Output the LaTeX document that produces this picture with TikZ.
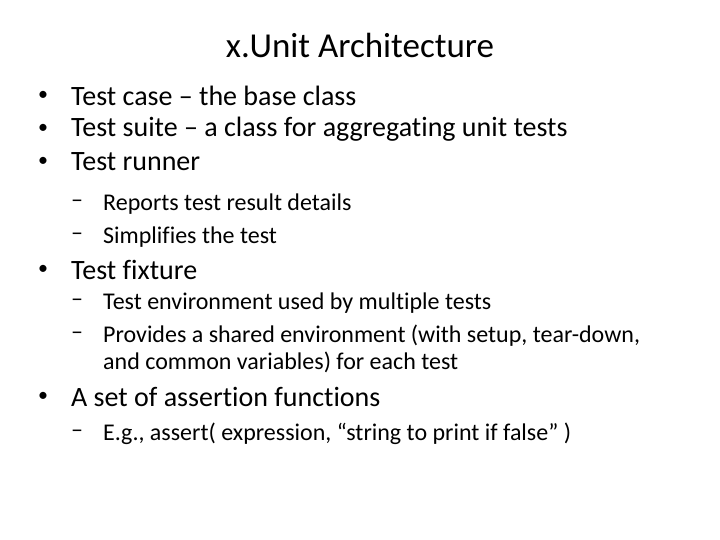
\documentclass[tikz,border=0pt]{standalone}
\usepackage{fontspec}
\setmainfont[Ligatures=NoCommon]{Carlito}
\tikzset{
  lvlone/.style={anchor=west, inner sep=0pt, font=\fontsize{28}{32}\selectfont},
  lvltwo/.style={anchor=west, inner sep=0pt, font=\fontsize{24}{28}\selectfont},
}
\begin{document}
\begin{tikzpicture}[x=1pt, y=-1pt]
  \useasboundingbox (0,0) rectangle (720,540);
  \node [font=\fontsize{35}{40}\selectfont, inner sep=0pt] (title) at (360,45) {x.Unit Architecture};
  % level one bullets
  \foreach \y/\name/\txt in {96/case/{Test case – the base class},
      129/suite/{Test suite – a class for aggregating unit tests},
      162/runner/{Test runner}, 270/fixture/{Test fixture},
      397/assert/{A set of assertion functions}} {
    \node [lvlone, font=\fontsize{20}{24}\selectfont] at (38,\y) {•};
    \node [lvlone] (\name) at (71,\y) {\txt};
  }
  % level two items
  \foreach \y/\name/\txt in {204/reports/{Reports test result details},
      237/simple/{Simplifies the test},
      303/env/{Test environment used by multiple tests},
      336/shared/{Provides a shared environment (with setup, tear-down,},
      434/eg/{E.g., assert( expression, “string to print if false” )}} {
    \node [lvltwo] at (71,\y) {–};
    \node [lvltwo] (\name) at (103,\y) {\txt};
  }
  \node [lvltwo] (sharedb) at (103,362) {and common variables) for each test};
\end{tikzpicture}
\end{document}
